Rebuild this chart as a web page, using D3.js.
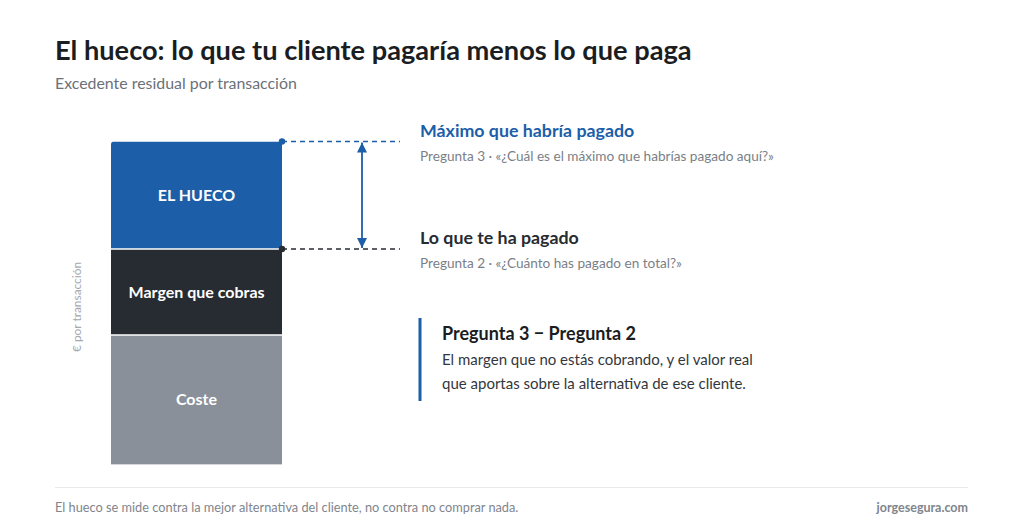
<!DOCTYPE html>
<html>
<head>
<meta charset="utf-8">
<script src="https://cdn.jsdelivr.net/npm/d3@7"></script>
<style>
  body { margin: 0; background: #fff; }
  svg { display: block; font-family: Lato, "Noto Sans", sans-serif; }
</style>
</head>
<body>
<svg id="chart"></svg>
<script>
// Stack segments, bottom to top (€ per transaction, estimated)
const segments = ["Coste", "Margen que cobras", "EL HUECO"];
const segmentValues = [60, 40, 50];
const segmentColors = ["#8a9099", "#272b32", "#1c5ea8"];

// Reference levels: what they paid vs. maximum they would pay
const markerTitles = ["Lo que te ha pagado", "Máximo que habría pagado"];
const markerNotes = [
    "Pregunta 2 · «¿Cuánto has pagado en total?»",
    "Pregunta 3 · «¿Cuál es el máximo que habrías pagado aquí?»"
];
const markerColors = ["#272b32", "#1c5ea8"];

const W = 1024, H = 529;
const svg = d3.select("#chart").attr("width", W).attr("height", H);

// Title block
svg.append("text")
    .attr("x", 55).attr("y", 60)
    .attr("font-size", 27.2).attr("font-weight", 700).attr("fill", "#1a1d21")
    .text("El hueco: lo que tu cliente pagaría menos lo que paga");
svg.append("text")
    .attr("x", 55).attr("y", 89)
    .attr("font-size", 15.9).attr("fill", "#6b7079")
    .text("Excedente residual por transacción");

// Scales
const stacked = [];
let acc = 0;
segmentValues.forEach((v, i) => {
    stacked.push({name: segments[i], y0: acc, y1: acc + v, color: segmentColors[i]});
    acc += v;
});
const total = acc;

const y = d3.scaleLinear().domain([0, total]).range([464, 141.5]);
const x = d3.scaleBand().domain(["bar"]).range([111, 282]).padding(0);
const bw = x.bandwidth();
const bx = x("bar");

// Bar segments (rounded top corners via clip)
const clipId = "barclip";
svg.append("clipPath").attr("id", clipId)
    .append("path")
    .attr("d", () => {
        const top = y(total), bot = y(0), r = 3;
        return `M${bx},${bot}V${top + r}Q${bx},${top} ${bx + r},${top}H${bx + bw - r}Q${bx + bw},${top} ${bx + bw},${top + r}V${bot}Z`;
    });

const g = svg.append("g").attr("clip-path", `url(#${clipId})`);
g.selectAll("rect")
    .data(stacked)
    .join("rect")
    .attr("x", bx)
    .attr("width", bw)
    .attr("y", d => y(d.y1))
    .attr("height", d => y(d.y0) - y(d.y1))
    .attr("fill", d => d.color);

// white separators between segments
svg.selectAll("line.sep")
    .data(stacked.slice(1))
    .join("line")
    .attr("class", "sep")
    .attr("x1", bx).attr("x2", bx + bw)
    .attr("y1", d => y(d.y0)).attr("y2", d => y(d.y0))
    .attr("stroke", "#fff").attr("stroke-width", 1.6);

// faint baseline
svg.append("line")
    .attr("x1", bx).attr("x2", bx + bw)
    .attr("y1", y(0) + 0.5).attr("y2", y(0) + 0.5)
    .attr("stroke", "#d3d6db").attr("stroke-width", 1.2);

// Segment labels
svg.selectAll("text.seg")
    .data(stacked)
    .join("text")
    .attr("class", "seg")
    .attr("x", bx + bw / 2)
    .attr("y", d => (y(d.y0) + y(d.y1)) / 2)
    .attr("dy", "0.35em")
    .attr("text-anchor", "middle")
    .attr("font-size", 16).attr("font-weight", 700).attr("fill", "#fff")
    .text(d => d.name);

// Y axis label
svg.append("text")
    .attr("transform", `translate(81,307) rotate(-90)`)
    .attr("text-anchor", "middle")
    .attr("font-size", 11.9).attr("fill", "#a4a8af")
    .text("€ por transacción");

// Reference levels
const levels = [stacked[1].y1, stacked[2].y1];
const dashEnd = 400;
levels.forEach((lv, i) => {
    const yy = y(lv);
    svg.append("line")
        .attr("x1", bx + bw).attr("x2", dashEnd)
        .attr("y1", yy).attr("y2", yy)
        .attr("stroke", markerColors[i]).attr("stroke-width", 1.4)
        .attr("stroke-dasharray", "5,4");
    svg.append("circle")
        .attr("cx", bx + bw).attr("cy", yy).attr("r", 3.2)
        .attr("fill", markerColors[i]);
    svg.append("text")
        .attr("x", 420).attr("y", yy - 5)
        .attr("font-size", 17.8).attr("font-weight", 700).attr("fill", markerColors[i])
        .text(markerTitles[i]);
    svg.append("text")
        .attr("x", 420).attr("y", yy + 19)
        .attr("font-size", 13.6).attr("fill", "#7a7f87")
        .text(markerNotes[i]);
});

// Double-headed arrow spanning the gap
const defs = svg.append("defs");
["start", "end"].forEach(k => {
    defs.append("marker")
        .attr("id", "arr-" + k)
        .attr("viewBox", "0 0 10 10")
        .attr("refX", 10).attr("refY", 5)
        .attr("markerWidth", 10).attr("markerHeight", 10)
        .attr("markerUnits", "userSpaceOnUse")
        .attr("orient", k === "start" ? "auto-start-reverse" : "auto")
        .append("path")
        .attr("d", "M0,0L10,5L0,10Z")
        .attr("fill", "#1c5ea8");
});
svg.append("line")
    .attr("x1", 362).attr("x2", 362)
    .attr("y1", y(levels[1]) + 1).attr("y2", y(levels[0]) - 1)
    .attr("stroke", "#1c5ea8").attr("stroke-width", 1.8)
    .attr("marker-start", "url(#arr-start)")
    .attr("marker-end", "url(#arr-end)");

// Callout
svg.append("rect")
    .attr("x", 418.5).attr("y", 318).attr("width", 3).attr("height", 83)
    .attr("fill", "#1c5ea8");
svg.append("text")
    .attr("x", 442).attr("y", 340)
    .attr("font-size", 18).attr("font-weight", 700).attr("fill", "#1a1d21")
    .text("Pregunta 3 − Pregunta 2");
const calloutLines = [
    "El margen que no estás cobrando, y el valor real",
    "que aportas sobre la alternativa de ese cliente."
];
svg.selectAll("text.call")
    .data(calloutLines)
    .join("text")
    .attr("class", "call")
    .attr("x", 442)
    .attr("y", (d, i) => 365 + i * 24)
    .attr("font-size", 15).attr("fill", "#33373d")
    .text(d => d);

// Footer
svg.append("line")
    .attr("x1", 55).attr("x2", 968)
    .attr("y1", 487.5).attr("y2", 487.5)
    .attr("stroke", "#e8e9ec").attr("stroke-width", 1);
svg.append("text")
    .attr("x", 55).attr("y", 512)
    .attr("font-size", 12.75).attr("fill", "#80858d")
    .text("El hueco se mide contra la mejor alternativa del cliente, no contra no comprar nada.");
svg.append("text")
    .attr("x", 968).attr("y", 512)
    .attr("text-anchor", "end")
    .attr("font-size", 12.5).attr("font-weight", 700).attr("fill", "#80858d")
    .text("jorgesegura.com");
</script>
</body>
</html>
